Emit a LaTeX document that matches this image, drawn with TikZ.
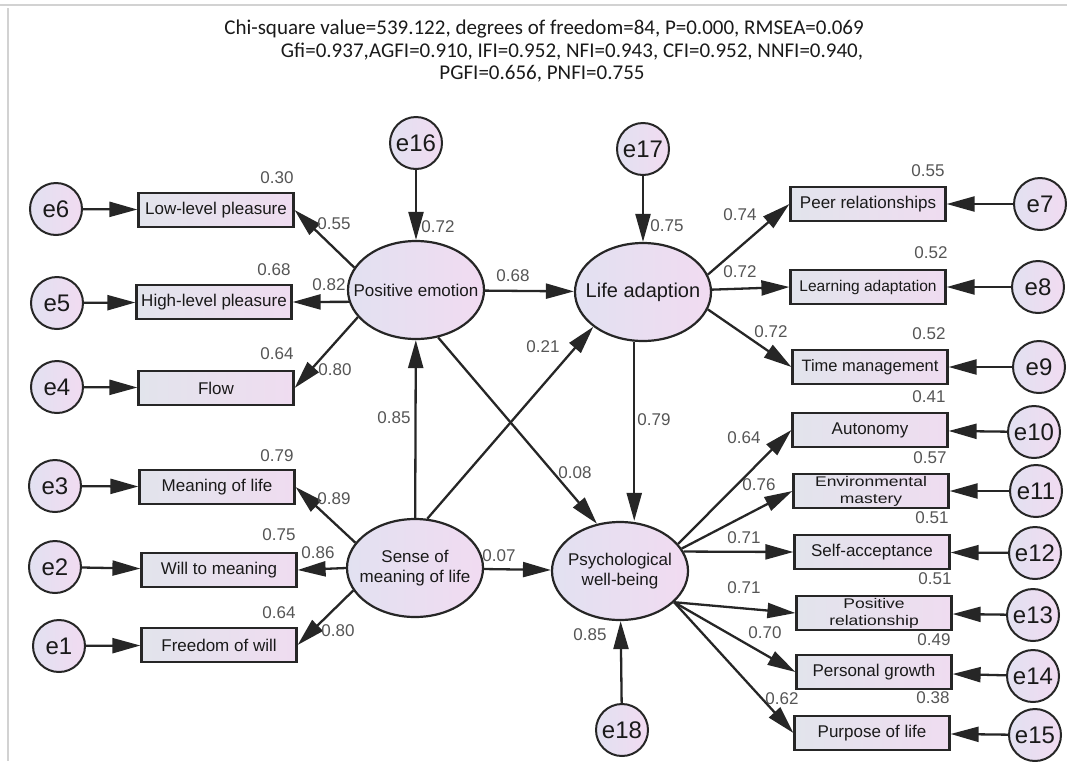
\documentclass[tikz,border=0pt]{standalone}
\usepackage{fontspec}
\setmainfont{Liberation Sans}
\newfontfamily\hdrfont{Carlito}
\newfontfamily\widefont[FakeStretch=1.25]{Liberation Sans}
\usetikzlibrary{arrows.meta, shapes.geometric}
\definecolor{semLine}{HTML}{262626}
\definecolor{semText}{HTML}{1A1A1A}
\definecolor{semNum}{HTML}{555555}
\definecolor{semBoxL}{HTML}{E2E4EC}
\definecolor{semBoxR}{HTML}{EFDCF0}
\definecolor{semOvalL}{HTML}{E2E1F1}
\definecolor{semOvalR}{HTML}{F1DBF1}
\definecolor{semFrame}{HTML}{D2D2D2}

\begin{document}
\begin{tikzpicture}[
  x=1pt, y=-1pt,
  hdr/.style={font=\hdrfont\fontsize{21}{23}\selectfont, text=semText, inner sep=0pt, anchor=base},
  errc/.style={circle, draw=semLine, line width=2pt, left color=semOvalL, right color=semOvalR,
               minimum size=52pt, inner sep=0pt, font=\fontsize{24}{26}\selectfont, text=semText},
  obsv/.style={rectangle, draw=semLine, line width=2.2pt, left color=semBoxL, right color=semBoxR,
               minimum width=155pt, minimum height=34pt, inner sep=1pt,
               font=\fontsize{17}{20}\selectfont, text=semText},
  obsw/.style={obsv, font=\widefont\fontsize{14}{17}\selectfont, align=center},
  latv/.style={ellipse, draw=semLine, line width=2.2pt, left color=semOvalL, right color=semOvalR,
               minimum width=136pt, minimum height=98pt, inner xsep=-20pt, inner ysep=0pt,
               align=center, font=\fontsize{17}{20}\selectfont, text=semText},
  coef/.style={font=\fontsize{17}{20}\selectfont, text=semNum, inner sep=0pt},
  regr/.style={draw=semLine, line width=2.3pt, -{Triangle[length=28pt,width=15pt]}},
]
\useasboundingbox (0,0) rectangle (1067,761);

% ---------------- Frame and fit indices ----------------
\draw[semFrame, line width=2.5pt] (0,5) -- (1067,5);
\draw[semFrame, line width=1.2pt] (8,8) -- (8,761);
\node[hdr] (fit1) at (544,34) {Chi-square value=539.122, degrees of freedom=84, P=0.000, RMSEA=0.069};
\node[hdr] (fit2) at (572,57) {Gfi=0.937,AGFI=0.910, IFI=0.952, NFI=0.943, CFI=0.952, NNFI=0.940,};
\node[hdr] (fit3) at (542,79) {PGFI=0.656, PNFI=0.755};

% ---------------- Latent variables ----------------
\node[latv] (pe)   at (416,290) {Positive emotion};
\node[latv] (smol) at (415,568) {Sense of\\meaning of life};
\node[latv, font=\fontsize{20}{22}\selectfont] (la) at (643,292) {Life adaption};
\node[latv] (pwb)  at (620,571) {Psychological\\well-being};

% ---------------- Indicators (left) ----------------
\node[obsv] (llp)  at (216,210) {Low-level pleasure};
\node[obsv] (hlp)  at (214,302) {High-level pleasure};
\node[obsv] (flow) at (216,388) {Flow};
\node[obsv] (mol)  at (217,487) {Meaning of life};
\node[obsv] (wtm)  at (219,570) {Will to meaning};
\node[obsv] (fow)  at (219,645) {Freedom of will};

% ---------------- Indicators (right) ----------------
\node[obsv] (peer)  at (868,204) {Peer relationships};
\node[obsv, font=\fontsize{15.5}{18}\selectfont] (learn) at (868,287) {Learning adaptation};
\node[obsv, font=\fontsize{16.5}{19}\selectfont] (time)  at (870,367) {Time management};
\node[obsv] (auto)  at (870,430) {Autonomy};
\node[obsw] (envm)  at (871,491) {Environmental\\mastery};
\node[obsv] (selfa) at (872,552) {Self-acceptance};
\node[obsw] (posr)  at (874,613) {Positive\\relationship};
\node[obsv] (pgro)  at (874,672) {Personal growth};
\node[obsv] (purp)  at (872,733) {Purpose of life};

% ---------------- Error terms ----------------
\node[errc] (e6) at (56,209) {e6};
\node[errc] (e5) at (57,303) {e5};
\node[errc] (e4) at (57,387) {e4};
\node[errc] (e3) at (55,486) {e3};
\node[errc] (e2) at (55,567) {e2};
\node[errc] (e1) at (59,646) {e1};
\node[errc] (e16) at (416,143) {e16};
\node[errc] (e17) at (643,149) {e17};
\node[errc] (e18) at (622,730) {e18};
\node[errc] (e7)  at (1040,204) {e7};
\node[errc] (e8)  at (1038,287) {e8};
\node[errc] (e9)  at (1039,367) {e9};
\node[errc] (e10) at (1034,432) {e10};
\node[errc] (e11) at (1036,491) {e11};
\node[errc] (e12) at (1035,553) {e12};
\node[errc] (e13) at (1033,615) {e13};
\node[errc] (e14) at (1033,676) {e14};
\node[errc] (e15) at (1035,735) {e15};

% ---------------- Error arrows ----------------
\draw[regr] (e6) -- (llp);
\draw[regr] (e5) -- (hlp);
\draw[regr] (e4) -- (flow);
\draw[regr] (e3) -- (mol);
\draw[regr] (e2) -- (wtm);
\draw[regr] (e1) -- (fow);
\draw[regr] (e16) -- (pe);
\draw[regr] (e17) -- (la);
\draw[regr] (e18) -- (pwb);
\draw[regr] (e7) -- (peer);
\draw[regr] (e8) -- (learn);
\draw[regr] (e9) -- (time);
\draw[regr] (e10) -- (auto);
\draw[regr] (e11) -- (envm);
\draw[regr] (e12) -- (selfa);
\draw[regr] (e13) -- (posr);
\draw[regr] (e14) -- (pgro);
\draw[regr] (e15) -- (purp);

% ---------------- Loadings ----------------
\draw[regr] (pe.160) -- (llp.east);
\draw[regr] (pe.190) -- (hlp.east);
\draw[regr] (pe.205) -- (flow.east);
\draw[regr] (smol.157) -- (mol.east);
\draw[regr] (smol.west) -- (wtm.east);
\draw[regr] (smol.200) -- (fow.east);
\draw[regr] (la.15) -- (peer.west);
\draw[regr] (la) -- (learn.west);
\draw[regr] (la.-15) -- (time.west);
\draw[regr] (pwb.25) -- (auto.west);
\draw[regr] (pwb.20) -- (envm.west);
\draw[regr] (pwb.17) -- (selfa.west);
\draw[regr] (pwb.-30) -- (posr.west);
\draw[regr] (pwb.-30) -- (pgro.west);
\draw[regr] (pwb.-30) -- (purp.west);

% ---------------- Structural paths ----------------
\draw[regr] (smol) -- (pe);
\draw[regr] (smol.76) -- (la.215);
\draw[regr] (smol) -- (pwb);
\draw[regr] (pe) -- (la);
\draw[regr] (pe.-65) -- (pwb.116);
\draw[regr] (la.260) -- (la.260 |- pwb.north);

% ---------------- Coefficients (left) ----------------
\node[coef] (r2llp)  at (277,178) {0.30};
\node[coef] (kllp)   at (334,224) {0.55};
\node[coef] (ke16)   at (438,227) {0.72};
\node[coef] (r2hlp)  at (274,270) {0.68};
\node[coef] (khlp)   at (329,285) {0.82};
\node[coef] (r2flow) at (277,354) {0.64};
\node[coef] (kflow)  at (335,370) {0.80};
\node[coef] (kspe)   at (394,418) {0.85};
\node[coef] (r2mol)  at (277,456) {0.79};
\node[coef] (kmol)   at (334,499) {0.89};
\node[coef] (r2wtm)  at (279,535) {0.75};
\node[coef] (kwtm)   at (318,553) {0.86};
\node[coef] (r2fow)  at (279,613) {0.64};
\node[coef] (kfow)   at (338,631) {0.80};
\node[coef] (kspwb)  at (499,556) {0.07};
\node[coef] (kpela)  at (513,276) {0.68};

% ---------------- Coefficients (right) ----------------
\node[coef] (ke17)    at (667,226) {0.75};
\node[coef] (ksla)    at (543,347) {0.21};
\node[coef] (kpeer)   at (740,215) {0.74};
\node[coef] (r2peer)  at (928,171) {0.55};
\node[coef] (klearn)  at (740,272) {0.72};
\node[coef] (r2learn) at (931,253) {0.52};
\node[coef] (ktime)   at (771,332) {0.72};
\node[coef] (r2time)  at (929,334) {0.52};
\node[coef] (r2auto)  at (929,397) {0.41};
\node[coef] (klapwb)  at (654,420) {0.79};
\node[coef] (kauto)   at (744,438) {0.64};
\node[coef] (kpepwb)  at (575,473) {0.08};
\node[coef] (r2envm)  at (930,458) {0.57};
\node[coef] (kenvm)   at (759,485) {0.76};
\node[coef] (r2selfa) at (932,518) {0.51};
\node[coef] (kselfa)  at (744,538) {0.71};
\node[coef] (r2posr)  at (935,579) {0.51};
\node[coef] (kposr)   at (744,588) {0.71};
\node[coef] (kpgro)   at (765,633) {0.70};
\node[coef] (r2pgro)  at (934,640) {0.49};
\node[coef] (ke18)    at (590,635) {0.85};
\node[coef] (kpurp)   at (782,699) {0.62};
\node[coef] (r2purp)  at (933,698) {0.38};
\end{tikzpicture}
\end{document}
